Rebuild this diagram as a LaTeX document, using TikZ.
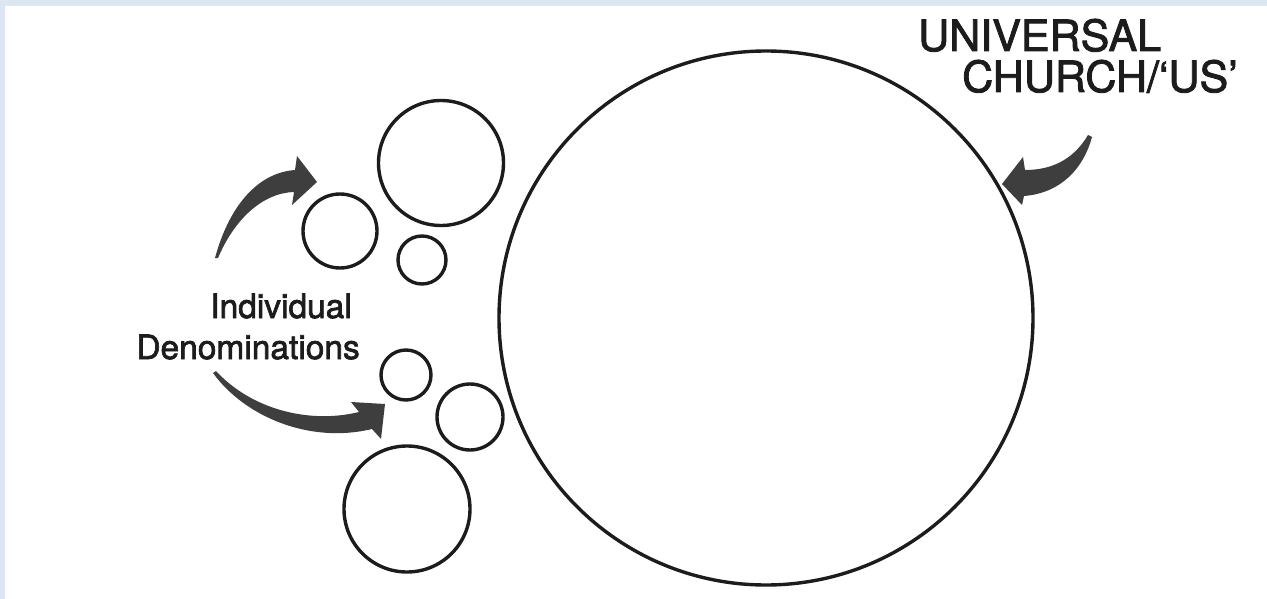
\documentclass[tikz,border=0pt]{standalone}
\usepackage{fontspec}
\setmainfont{TeX Gyre Heros}
\newfontfamily\lblfont{TeX Gyre Heros}[FakeBold=2, Ligatures=TeX]
\definecolor{pageblue}{RGB}{220,230,241}
\definecolor{ink}{RGB}{28,28,28}
\definecolor{arrowgray}{RGB}{62,62,62}

\begin{document}
\begin{tikzpicture}[x=1pt, y=-1pt,
  ring/.style={circle, draw=ink, line width=3.4pt, inner sep=0pt},
  biglbl/.style={font=\lblfont\fontsize{43}{47}\selectfont, text=ink, inner sep=0pt},
  lbl/.style={font=\lblfont\fontsize{33.5}{38}\selectfont, text=ink, inner sep=0pt},
  fat/.style={fill=arrowgray}]
  % page and frame
  \useasboundingbox (0,0) rectangle (1267,599);
  \fill[pageblue] (0,0) rectangle (1267,599);
  \fill[white] (5,6) rectangle (1267,599);
  % universal church
  \node[ring, minimum size=534pt] (church) at (766,318) {};
  % denominations, upper group
  \node[ring, minimum size=125pt] (den1) at (441,163) {};
  \node[ring, minimum size=74pt]  (den2) at (340,231) {};
  \node[ring, minimum size=48pt]  (den3) at (422,260) {};
  % denominations, lower group
  \node[ring, minimum size=50pt]  (den4) at (406,375) {};
  \node[ring, minimum size=66pt]  (den5) at (470,417) {};
  \node[ring, minimum size=126pt] (den6) at (407,509) {};
  % labels
  \node[biglbl, anchor=base west] (univ) at (918,51) {UNIVERSAL};
  \node[biglbl, anchor=base west] (us) at (962,92) {CHURCH/‘US’};
  \node[lbl, anchor=base east] (indiv) at (352,318) {Individual};
  \node[lbl, anchor=base east] (denom) at (360,359) {Denominations};
  % fat arrows
  \coordinate (uptail) at (215,258);
  \coordinate (lowtail) at (213,373);
  \coordinate (rtail) at (1088,135);
  \fill[fat] (uptail) .. controls (228,210) and (255,173) .. (295,170)
    -- (297,156) -- (317,182) -- (292,205) -- (294,192)
    .. controls (262,193) and (234,220) .. (218,258) -- cycle;
  \fill[fat] (lowtail) .. controls (245,417) and (310,444) .. (372,429)
    -- (381,439) -- (385,404) -- (351,402) -- (359,412)
    .. controls (310,424) and (252,410) .. (216,371) -- cycle;
  \fill[fat] (rtail) .. controls (1075,157) and (1055,170) .. (1025,170)
    -- (1023,157) -- (1002,184) -- (1022,205) -- (1024,196)
    .. controls (1062,193) and (1084,167) .. (1092,137) -- cycle;
\end{tikzpicture}
\end{document}
